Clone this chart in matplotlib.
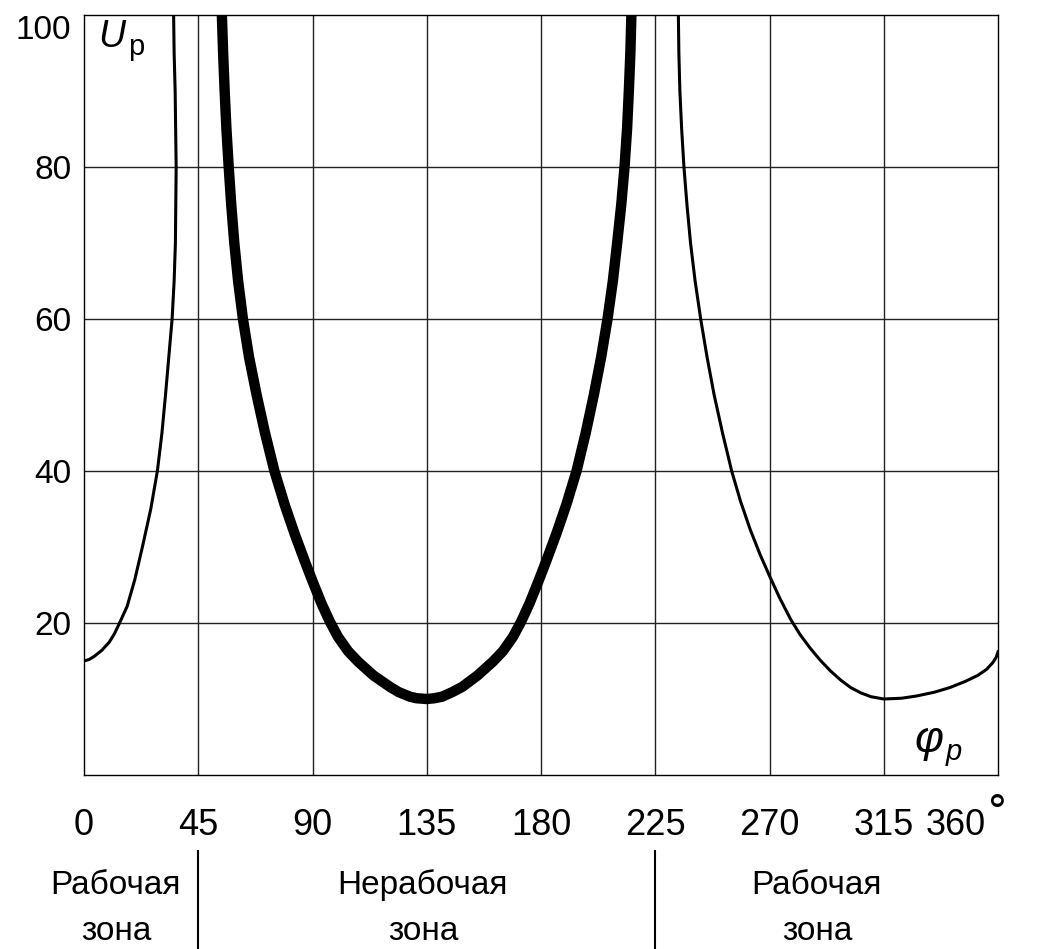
import numpy as np
import matplotlib
matplotlib.use('Agg')
import matplotlib.pyplot as plt

plt.rcParams['font.family'] = ['Liberation Sans', 'DejaVu Sans']

# кривая 1 (рабочая зона слева), тонкая
phi_1 = [0, 2, 4, 7, 10, 12, 14, 17, 20, 23, 26.3, 28.9, 30.7, 32.1, 33.4, 34.7,
         35.5, 36.0, 36.3, 36.1, 35.9, 35.5, 35.3]
u_1 = [15.0, 15.2, 15.6, 16.4, 17.5, 18.6, 20, 22.2, 25.7, 30, 35, 40, 45, 50, 55, 60,
       65, 70, 80, 85, 90, 95, 100]

# кривая 2 (нерабочая зона), толстая
phi_2 = [54.3, 54.8, 55.4, 56.1, 57.0, 58.0, 59.2, 60.7, 62.6, 65.0, 68.0, 71.3,
         75, 79, 83, 87, 90, 93.5, 96.8, 100, 104, 108, 114, 120.5, 124,
         128.4, 131, 135, 138, 141, 145, 149, 155, 161, 165, 169, 172.2,
         175.5, 179, 182, 186, 190, 194, 197.6, 200.8, 203.7, 206.2,
         208.3, 210, 211.6, 212.9, 213.9, 214.6, 215.2, 215.6]
u_2 = [100, 95, 90, 85, 80, 75, 70, 65, 60, 55, 50, 45,
       40, 35.6, 31.7, 28.1, 25.5, 22.6, 20.2, 18.2, 16.3, 14.9, 13.1, 11.6, 10.9,
       10.3, 10.1, 10.0, 10.1, 10.3, 10.9, 11.6, 13.1, 14.9, 16.3, 18.2, 20.2,
       22.6, 25.5, 28.1, 31.7, 35.6, 40, 45, 50, 55, 60,
       65, 70, 75, 80, 85, 90, 95, 100]

# кривая 3 (рабочая зона справа), тонкая
phi_3 = [234.1, 234.3, 234.7, 235.4, 236.3, 237.5, 238.9, 240.7, 242.9, 245.4,
         248.2, 251.5, 255.1, 258.6, 262.4, 266.3, 270, 274, 278.3, 282, 286,
         290, 294, 298, 302, 306, 310, 315, 322, 328, 335, 341, 347, 352,
         355.5, 358, 359.3, 360]
u_3 = [100, 95, 90, 85, 80, 75, 70, 65, 60, 55,
       50, 45, 40, 36, 32.3, 29, 26.2, 23.3, 20.5, 18.5, 16.7,
       15.1, 13.7, 12.5, 11.5, 10.8, 10.3, 10.0, 10.1, 10.4, 10.9, 11.5, 12.3, 13.1,
       13.9, 14.8, 15.5, 16.2]

x_ticks = [0, 45, 90, 135, 180, 225, 270, 315, 360]
y_ticks = [20, 40, 60, 80, 100]
zone_bounds = [45, 225]
zone_names = ['Рабочая', 'Нерабочая', 'Рабочая']
zone_x = [12.6, 133.5, 288.7]

fig = plt.figure(figsize=(10.4, 9.49), dpi=100)
ax = fig.add_axes([84/1040, 174/949, 914/1040, 760/949])

# сетка
for xv in x_ticks[1:-1]:
    ax.axvline(xv, color='#222222', lw=1.0, zorder=1)
for yv in y_ticks[:-1]:
    ax.axhline(yv, color='#222222', lw=1.0, zorder=1)

ax.plot(phi_1, u_1, color='black', lw=2.2, zorder=3, solid_joinstyle='round')
ax.plot(phi_2, u_2, color='black', lw=7.5, zorder=3, solid_joinstyle='round')
ax.plot(phi_3, u_3, color='black', lw=2.2, zorder=3, solid_joinstyle='round')

ax.set_xlim(0, 360)
ax.set_ylim(0, 100)
for s in ax.spines.values():
    s.set_linewidth(1.0)
    s.set_color('black')

ax.set_xticks(x_ticks)
ax.set_xticklabels([str(v) for v in x_ticks[:-1]] + [''], fontsize=26)
ax.set_yticks(y_ticks)
ax.set_yticklabels([str(v) for v in y_ticks], fontsize=24)
ax.tick_params(axis='x', length=0, pad=24)
ax.tick_params(axis='y', length=0, pad=9)
ax.get_yticklabels()[-1].set_va('top')

# 360 со знаком градуса
ax.text(355, -4.4, '360', ha='right', va='top', fontsize=26, clip_on=False)
ax.text(355.6, -2.4, '°', ha='left', va='top', fontsize=30,
        family=['DejaVu Sans'], clip_on=False)

# обозначения осей
ax.text(5.5, 95.8, 'U', style='italic', fontsize=27, ha='left', va='baseline')
ax.text(17.3, 94.7, 'p', fontsize=21, ha='left', va='baseline')
ax.text(327.0, 3.0, 'φ', style='italic', fontsize=32, ha='left', va='baseline')
ax.text(339.5, 2.0, 'p', style='italic', fontsize=21, ha='left', va='baseline')

# границы зон
for xb in zone_bounds:
    ax.plot([xb, xb], [-10.0, -23.0], color='black', lw=1.5, clip_on=False)

for xz, name in zip(zone_x, zone_names):
    ax.text(xz, -15.6, name, ha='center', va='baseline', fontsize=24, clip_on=False)
    ax.text(xz, -21.7, 'зона', ha='center', va='baseline', fontsize=24, clip_on=False)

fig.savefig('out.png', dpi=100)
